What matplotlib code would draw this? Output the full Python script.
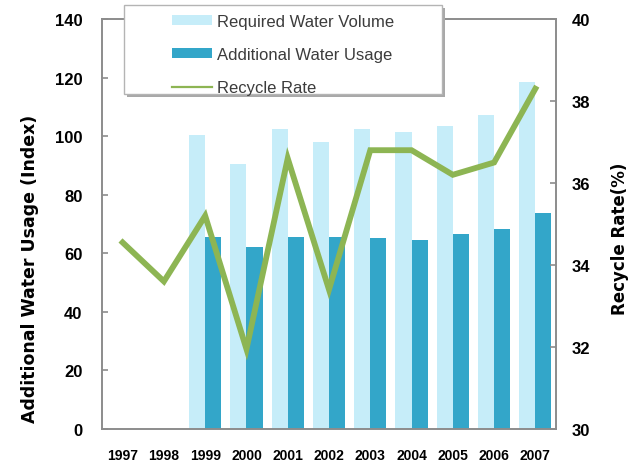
import matplotlib
matplotlib.use('Agg')
import matplotlib.pyplot as plt
import numpy as np
from matplotlib.patches import Patch, Rectangle
from matplotlib.lines import Line2D

plt.rcParams['font.family'] = ['Liberation Sans', 'DejaVu Sans']

years = ['1997', '1998', '1999', '2000', '2001', '2002', '2003', '2004', '2005', '2006', '2007']
required = [np.nan, np.nan, 100.5, 90.6, 102.4, 98.0, 102.4, 101.4, 103.4, 107.2, 118.5]
additional = [np.nan, np.nan, 65.5, 62.0, 65.5, 65.5, 65.2, 64.6, 66.5, 68.2, 73.8]
recycle = [34.55, 33.6, 35.2, 31.95, 36.6, 33.4, 36.8, 36.8, 36.2, 36.5, 38.3]

light = '#c6edf9'
dark = '#33a6c9'
green = '#8db553'
grey = '#8c8c8c'

W, H = 631, 464
fig = plt.figure(figsize=(W / 100, H / 100), dpi=100)
ax = fig.add_axes([102 / W, 1 - 430 / H, 454 / W, 410 / H])
ax2 = ax.twinx()

x = np.arange(len(years))
w = 0.39
ax.bar(x - w / 2, required, w, color=light, zorder=1)
ax.bar(x + w / 2, additional, w, color=dark, zorder=2)
ax2.plot(x, recycle, color=green, lw=4.2, solid_joinstyle='miter', zorder=3)

ax.set_xlim(-0.5, len(years) - 0.5)
ax.set_ylim(0, 140)
ax.set_yticks(np.arange(0, 141, 20))
ax2.set_ylim(30, 40)
ax2.set_yticks(np.arange(30, 41, 2))
ax.set_xticks(x)
ax.set_xticklabels(years, fontsize=10, fontweight='bold')

for a in (ax, ax2):
    for s in a.spines.values():
        s.set_color(grey)
        s.set_linewidth(1.2)
    a.tick_params(axis='y', direction='in', colors=grey, length=4, width=1.2,
                  labelcolor='black', labelsize=12)
ax.tick_params(axis='y', pad=14)
ax2.tick_params(axis='y', pad=11)
ax.tick_params(axis='x', length=0, pad=14)
for lab in ax.get_yticklabels() + ax2.get_yticklabels():
    lab.set_fontweight('bold')

ax.set_ylabel('Additional Water Usage (Index)', fontsize=12.5, fontweight='bold',
              family='DejaVu Sans')
ax.yaxis.set_label_coords(-0.139, 0.393)
ax2.set_ylabel('Recycle Rate(%)', fontsize=12, fontweight='bold', family='DejaVu Sans')
ax2.yaxis.set_label_coords(1.121, 0.466)

# legend frame with shadow
fig.add_artist(Rectangle((127 / W, 1 - 98 / H), 318 / W, 89 / H, transform=fig.transFigure,
                         facecolor='#a8a8a8', edgecolor='none', zorder=4))
fig.add_artist(Rectangle((124 / W, 1 - 95 / H), 318 / W, 89 / H, transform=fig.transFigure,
                         facecolor='white', edgecolor='#b4b4b4', lw=1.0, zorder=4))

handles = [Patch(facecolor=light, edgecolor='none'),
           Patch(facecolor=dark, edgecolor='none'),
           Line2D([0], [0], color=green, lw=1.6)]
labels = ['Required Water Volume', 'Additional Water Usage', 'Recycle Rate']
leg = fig.legend(handles, labels, loc='upper left', bbox_to_anchor=(172 / W, 1 - 15 / H),
                 frameon=False, fontsize=12, labelspacing=1.08, handlelength=2.4,
                 handleheight=0.5, borderpad=0, borderaxespad=0, handletextpad=0.3,
                 labelcolor='#3c3c3c')
leg.set_zorder(5)

fig.savefig('out.png', dpi=100)
